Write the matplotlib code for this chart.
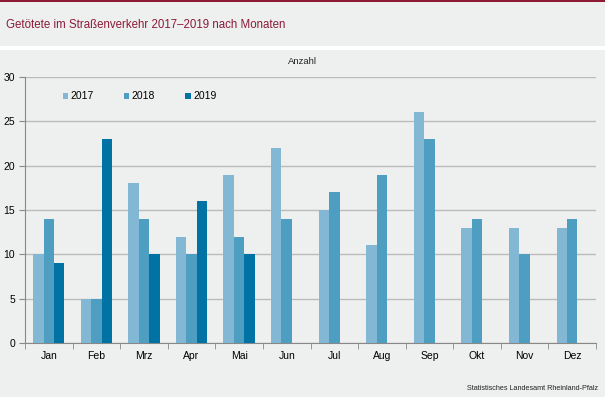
import numpy as np
import matplotlib.pyplot as plt
from matplotlib.patches import Rectangle

months = ["Jan", "Feb", "Mrz", "Apr", "Mai", "Jun", "Jul", "Aug", "Sep", "Okt", "Nov", "Dez"]
years = ["2017", "2018", "2019"]
v2017 = [10, 5, 18, 12, 19, 22, 15, 11, 26, 13, 13, 13]
v2018 = [14, 5, 14, 10, 12, 14, 17, 19, 23, 14, 10, 14]
v2019 = [9, 23, 10, 16, 10, np.nan, np.nan, np.nan, np.nan, np.nan, np.nan, np.nan]
colors = ["#82b8d4", "#4d9ec1", "#0072a4"]

bg = "#eef0ef"
plt.rcParams["font.family"] = ["Liberation Sans", "DejaVu Sans"]

fig = plt.figure(figsize=(6.05, 3.97), dpi=100)
fig.patch.set_facecolor("white")

# Hintergrundflächen (Titelband, Diagrammfläche, roter Balken oben)
H = 397.0
fig.patches.append(Rectangle((0, 1 - 46 / H), 1, 44 / H, transform=fig.transFigure,
                             facecolor=bg, edgecolor="none", zorder=0))
fig.patches.append(Rectangle((0, 0), 1, 1 - 50 / H, transform=fig.transFigure,
                             facecolor=bg, edgecolor="none", zorder=0))
fig.patches.append(Rectangle((0, 1 - 2 / H), 1, 2 / H, transform=fig.transFigure,
                             facecolor="#8b1a32", edgecolor="none", zorder=1))

fig.text(6 / 605, 1 - 25 / H, "Getötete im Straßenverkehr 2017–2019 nach Monaten",
         color="#8b1a3a", fontsize=8.3, va="center", ha="left")
fig.text(302 / 605, 1 - 62 / H, "Anzahl", fontsize=6.8, ha="center", va="center", color="#222222")
fig.text(598 / 605, 1 - 388 / H, "Statistisches Landesamt Rheinland-Pfalz",
         fontsize=5.2, ha="right", va="center", color="#222222")

ax = fig.add_axes([25 / 605, 1 - 343 / H, 571 / 605, 266 / H])
ax.set_zorder(5)
ax.set_facecolor(bg)

x = np.arange(len(months))
w = 0.22
for i, (vals, c, lab) in enumerate(zip([v2017, v2018, v2019], colors, years)):
    ax.bar(x + (i - 1) * w, vals, width=w, color=c, label=lab, zorder=3)

ax.set_xlim(-0.5, len(months) - 0.5)
ax.set_ylim(0, 30)
ax.set_yticks(range(0, 31, 5))
ax.set_xticks(x)
ax.set_xticklabels(months)
ax.set_xticks(np.arange(-0.5, len(months), 1), minor=True)
ax.tick_params(axis="x", which="major", length=0, labelsize=7.5, pad=6)
ax.tick_params(axis="x", which="minor", length=4, color="#888888", direction="out")
ax.tick_params(axis="y", length=4, color="#888888", labelsize=7.5, pad=3)
ax.yaxis.grid(True, color="#bbbbbb", linewidth=1, zorder=0)
ax.set_axisbelow(True)
for s in ["top", "right"]:
    ax.spines[s].set_visible(False)
for s in ["left", "bottom"]:
    ax.spines[s].set_color("#888888")

ax.legend(loc="upper left", bbox_to_anchor=(0.066, 0.946), ncol=3, frameon=False,
          fontsize=7.5, handlelength=0.5, handleheight=0.5, handletextpad=0.25,
          columnspacing=2.9, borderpad=0, borderaxespad=0)

fig.savefig("out.png", dpi=100, facecolor=fig.get_facecolor())
